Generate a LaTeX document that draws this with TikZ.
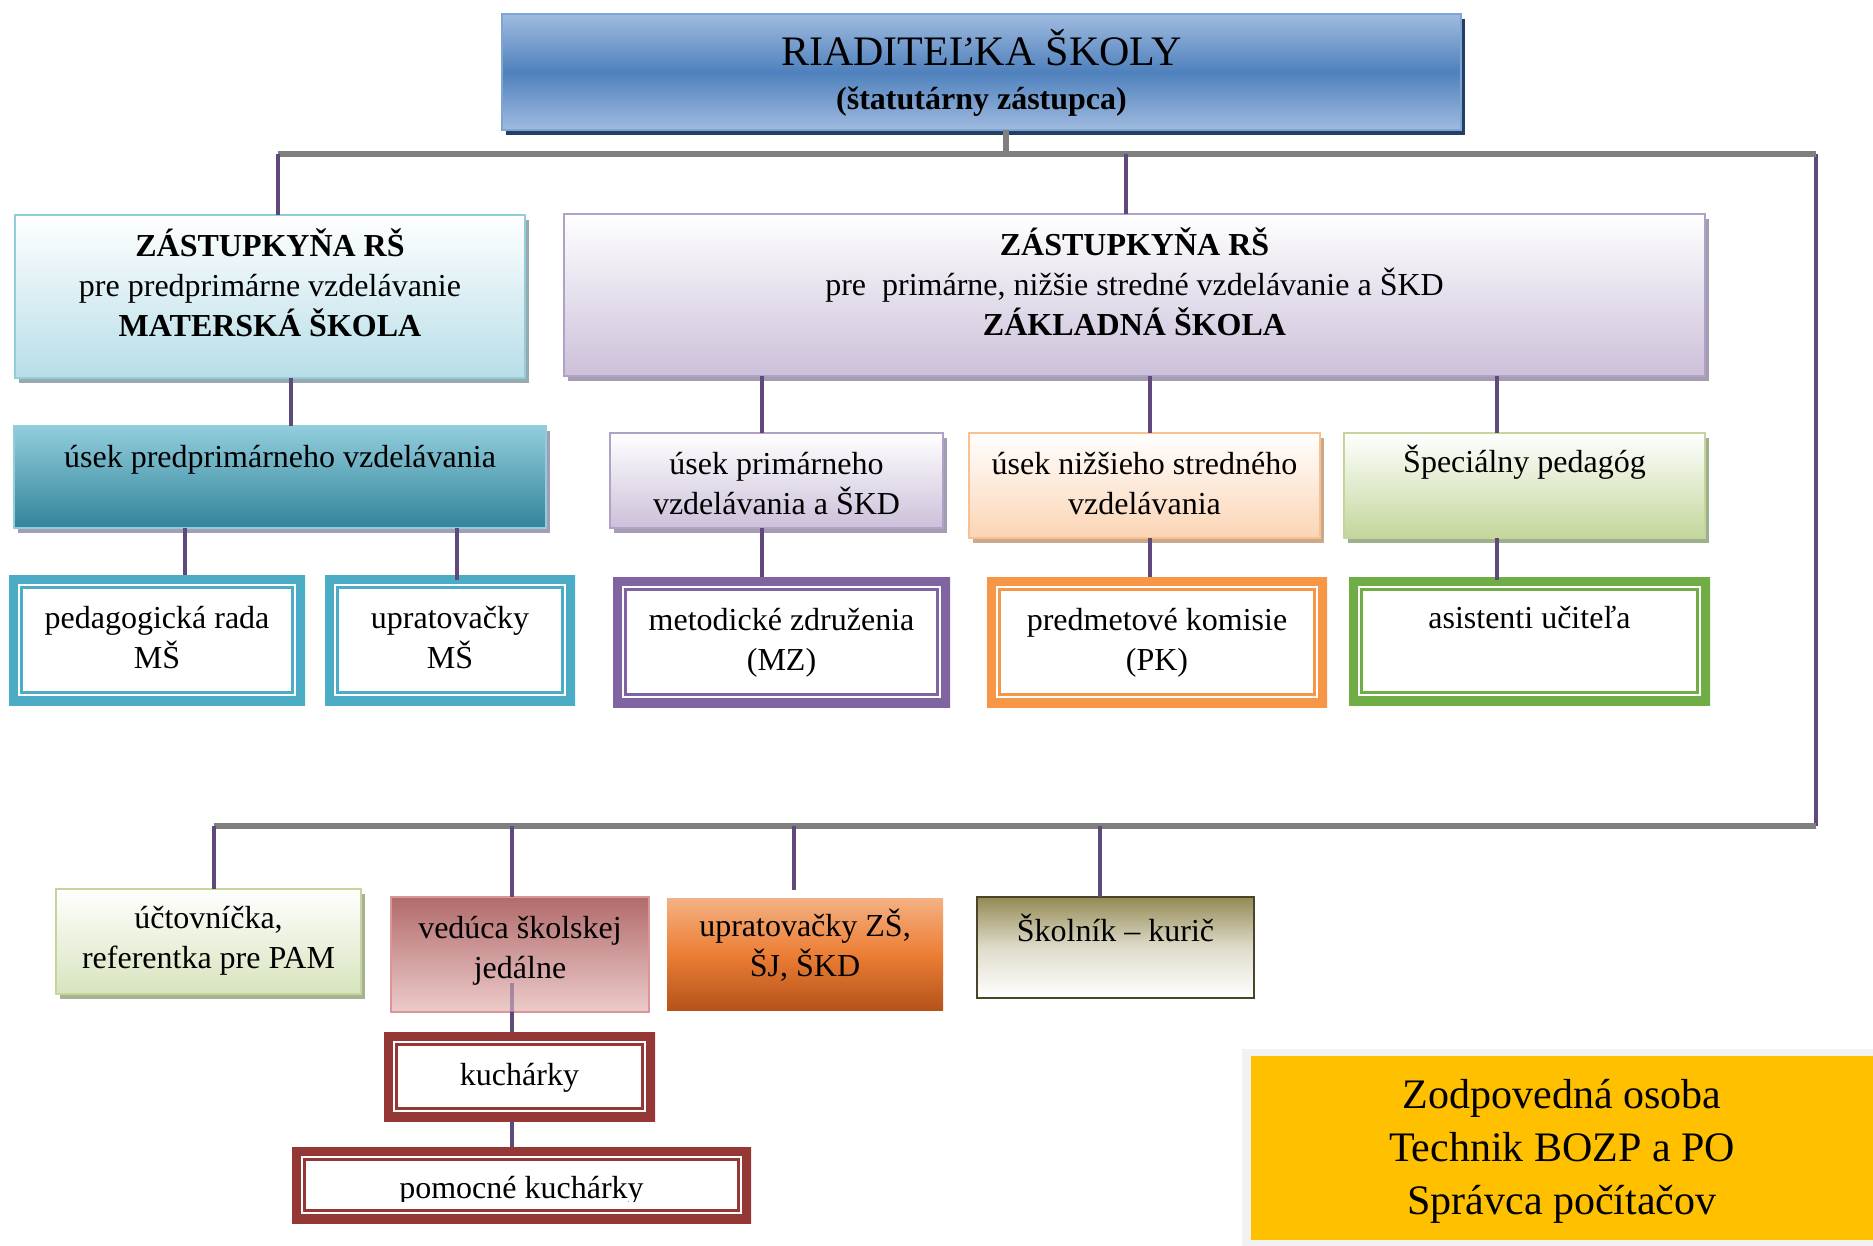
\documentclass[tikz,border=0pt]{standalone}
\usepackage{fontspec}
\setmainfont{Liberation Serif}
\usetikzlibrary{shadows}
\definecolor{glineC}{HTML}{7F7F7F}
\definecolor{plineC}{HTML}{5F497A}
\definecolor{dirA}{HTML}{A0BBDF}
\definecolor{dirB}{HTML}{4F81BD}
\definecolor{dirBd}{HTML}{7FA5D3}
\definecolor{dirSh}{HTML}{243F66}
\definecolor{msBot}{HTML}{B7DEE8}
\definecolor{msBd}{HTML}{92CDDC}
\definecolor{msSh}{HTML}{98A9AF}
\definecolor{ukA}{HTML}{92CDDC}
\definecolor{ukB}{HTML}{31849B}
\definecolor{ukSh}{HTML}{A39DB5}
\definecolor{cyanC}{HTML}{4BACC6}
\definecolor{zsBot}{HTML}{CCC0DA}
\definecolor{zsBd}{HTML}{B2A1C7}
\definecolor{zsSh}{HTML}{A49CB0}
\definecolor{orBot}{HTML}{FBD4B4}
\definecolor{orBd}{HTML}{FAC08F}
\definecolor{orSh}{HTML}{C9A88D}
\definecolor{grBot}{HTML}{C3D69B}
\definecolor{grBd}{HTML}{C3D69B}
\definecolor{grSh}{HTML}{9FAE8C}
\definecolor{mzC}{HTML}{8064A2}
\definecolor{pkC}{HTML}{F79646}
\definecolor{asC}{HTML}{70AD47}
\definecolor{ucBot}{HTML}{D7E4BD}
\definecolor{ucBd}{HTML}{C3D69B}
\definecolor{ucSh}{HTML}{A9B195}
\definecolor{veA}{HTML}{B26B6B}
\definecolor{veB}{HTML}{EDCBCB}
\definecolor{veBd}{HTML}{D99694}
\definecolor{upA}{HTML}{F4B183}
\definecolor{upM}{HTML}{EC7E35}
\definecolor{upB}{HTML}{B5531A}
\definecolor{skA}{HTML}{948A54}
\definecolor{skBd}{HTML}{4A452A}
\definecolor{kuC}{HTML}{953735}
\definecolor{yelC}{HTML}{FFC000}
\definecolor{yfrC}{HTML}{F2F2F2}
\begin{document}
\begin{tikzpicture}[x=1pt,y=-1pt,
  every node/.style={inner sep=0pt, outer sep=0pt},
  bx/.style 2 args={rectangle, minimum width=#1pt, minimum height=#2pt},
  gb/.style 2 args={top color=#1, bottom color=#2},
  sh/.style={drop shadow={shadow xshift=4pt, shadow yshift=-5pt, fill=#1, opacity=1}},
  dbox/.style={rectangle, fill=white, path picture={
     \draw[#1, line width=18pt] (path picture bounding box.north west) rectangle (path picture bounding box.south east);
     \draw[#1, line width=3pt] ([shift={(12.5pt,-12.5pt)}]path picture bounding box.north west) rectangle ([shift={(-12.5pt,12.5pt)}]path picture bounding box.south east);}},
  t32/.style={font=\fontsize{32}{40}\selectfont, align=center, anchor=base},
  t42/.style={font=\fontsize{42}{53}\selectfont, align=center, anchor=base},
  gline/.style={draw=glineC, line width=6pt},
  pline/.style={draw=plineC, line width=3.5pt}]
\useasboundingbox (0,0) rectangle (1873,1246);
\fill[white] (0,0) rectangle (1873,1246);

% junction coordinates
\coordinate (tL) at (278,154);
\coordinate (tR) at (1816,154);
\coordinate (bR) at (1816,826);
\coordinate (bL) at (214,826);
\coordinate (jd) at (1006,154);
\coordinate (jz) at (1126,154);
\coordinate (x291) at (291,0);
\coordinate (x185) at (185,0);
\coordinate (x457) at (457,0);
\coordinate (x762) at (762,0);
\coordinate (x1150) at (1150,0);
\coordinate (x1497) at (1497,0);
\coordinate (j512) at (512,826);
\coordinate (j794) at (794,826);
\coordinate (j1100) at (1100,826);

% boxes
\node[bx={959}{116}, top color=dirA, bottom color=dirA, middle color=dirB, draw=dirBd, line width=1.5pt, sh=dirSh] (dir) at (981.5,72) {};
\node[bx={510}{163}, gb={white}{msBot}, draw=msBd, line width=2.5pt, sh=msSh] (msdep) at (270,296.5) {};
\node[bx={532}{102}, gb={ukA}{ukB}, draw=msBd, line width=2pt, sh=ukSh] (usekms) at (280,477) {};
\node[bx={296}{130}, dbox=cyanC] (pedms) at (157,640) {};
\node[bx={250}{130}, dbox=cyanC] (uprms) at (450,640) {};
\node[bx={1141}{162}, gb={white}{zsBot}, draw=zsBd, line width=2.5pt, sh=zsSh] (zsdep) at (1134.5,295) {};
\node[bx={333}{95}, gb={white}{zsBot}, draw=zsBd, line width=2.5pt, sh=zsSh] (usekprim) at (776.5,480.5) {};
\node[bx={351}{105}, gb={white}{orBot}, draw=orBd, line width=2.5pt, sh=orSh] (useknizs) at (1144.5,485.5) {};
\node[bx={361}{105}, gb={white}{grBot}, draw=grBd, line width=2.5pt, sh=grSh] (specped) at (1524.5,485.5) {};
\node[bx={337}{130}, dbox=mzC] (mz) at (781.5,642) {};
\node[bx={340}{130}, dbox=pkC] (pk) at (1157,642) {};
\node[bx={361}{128}, dbox=asC] (asist) at (1529.5,641) {};
\node[bx={305}{105}, gb={white}{ucBot}, draw=ucBd, line width=2.5pt, sh=ucSh] (uct) at (208.5,941.5) {};
\node[bx={258}{115}, gb={veA}{veB}, draw=veBd, line width=2pt] (veduca) at (520,954.5) {};
\node[bx={276}{112}, top color=upA, bottom color=upB, middle color=upM] (uprzs) at (805,954) {};
\node[bx={277}{101}, top color=skA, bottom color=white, middle color=skA!30, draw=skBd, line width=2.5pt] (skolnik) at (1115.5,947.5) {};
\node[bx={271}{89}, dbox=kuC] (kuch) at (519.5,1076.5) {};
\node[bx={459}{76}, dbox=kuC] (pomoc) at (521.5,1185) {};
\node[bx={631}{197}, fill=yfrC] (yframe) at (1557.5,1147.5) {};
\node[bx={622}{184}, fill=yelC] (yellow) at (1562,1148) {};

% connectors
\draw[pline] (tR) -- (bR);
\draw[gline] (tL) -- (tR);
\draw[gline] (bR) -- (bL);
\draw[gline] (dir.south -| jd) -- (jd);
\draw[pline] (tL) -- (tL |- msdep.north);
\draw[pline] (jz) -- (jz |- zsdep.north);
\draw[pline] (msdep.south -| x291) -- (usekms.north -| x291);
\draw[pline] (usekms.south -| x185) -- (pedms.north -| x185);
\draw[pline] (usekms.south -| x457) -- ([yshift=-5pt]uprms.north -| x457);
\draw[pline] (zsdep.south -| x762) -- (usekprim.north -| x762);
\draw[pline] (zsdep.south -| x1150) -- (useknizs.north -| x1150);
\draw[pline] (zsdep.south -| x1497) -- (specped.north -| x1497);
\draw[pline] (usekprim.south -| x762) -- (mz.north -| x762);
\draw[pline] (useknizs.south -| x1150) -- (pk.north -| x1150);
\draw[pline] (specped.south -| x1497) -- ([yshift=-3pt]asist.north -| x1497);
\draw[pline] (bL) -- (bL |- uct.north);
\draw[pline] (j512) -- (j512 |- veduca.north);
\draw[pline] (j794) -- ([yshift=8pt]j794 |- uprzs.north);
\draw[pline] (j1100) -- (j1100 |- skolnik.north);
\draw[pline, draw opacity=0.45] ([yshift=29pt]veduca.south -| j512) -- (veduca.south -| j512);
\draw[pline] (veduca.south -| j512) -- (kuch.north -| j512);
\draw[pline] (kuch.south -| j512) -- (pomoc.north -| j512);

% texts (anchor=base = baseline of the last line)
\node[t42] (dirT) at (981.5,66) {RIADITEĽKA ŠKOLY};
\node[t32] (dirS) at (981.5,110) {\textbf{(štatutárny zástupca)}};
\node[t32] (msdepT) at (270,337) {\textbf{ZÁSTUPKYŇA RŠ}\\pre predprimárne vzdelávanie\\\textbf{MATERSKÁ ŠKOLA}};
\node[t32] (usekmsT) at (280,467) {úsek predprimárneho vzdelávania};
\node[t32] (pedmsT) at (157,668) {pedagogická rada\\MŠ};
\node[t32] (uprmsT) at (450,668) {upratovačky\\MŠ};
\node[t32] (zsdepT) at (1134.5,336) {\textbf{ZÁSTUPKYŇA RŠ}\\pre\ \ primárne, nižšie stredné vzdelávanie a ŠKD\\\textbf{ZÁKLADNÁ ŠKOLA}};
\node[t32] (usekprimT) at (776.5,514) {úsek primárneho\\vzdelávania a ŠKD};
\node[t32] (useknizsT) at (1144.5,514) {úsek nižšieho stredného\\vzdelávania};
\node[t32] (specpedT) at (1524.5,472) {Špeciálny pedagóg};
\node[t32] (mzT) at (781.5,670) {metodické združenia\\(MZ)};
\node[t32] (pkT) at (1157,670) {predmetové komisie\\(PK)};
\node[t32] (asistT) at (1529.5,628) {asistenti učiteľa};
\node[t32] (uctT) at (208.5,968) {účtovníčka,\\referentka pre PAM};
\node[t32] (veducaT) at (520,978) {vedúca školskej\\jedálne};
\node[t32] (uprzsT) at (805,976) {upratovačky ZŠ,\\ŠJ, ŠKD};
\node[t32] (skolnikT) at (1115.5,941) {Školník -- kurič};
\node[t32] (kuchT) at (519.5,1085) {kuchárky};
\begin{scope}
\clip (pomoc.north west) rectangle ([yshift=22pt]pomoc.south east);
\node[t32] (pomocT) at (521.5,1198) {pomocné kuchárky};
\end{scope}
\node[t42] (yellowT) at (1562,1214) {Zodpovedná osoba\\Technik BOZP a PO\\Správca počítačov};
\end{tikzpicture}
\end{document}
